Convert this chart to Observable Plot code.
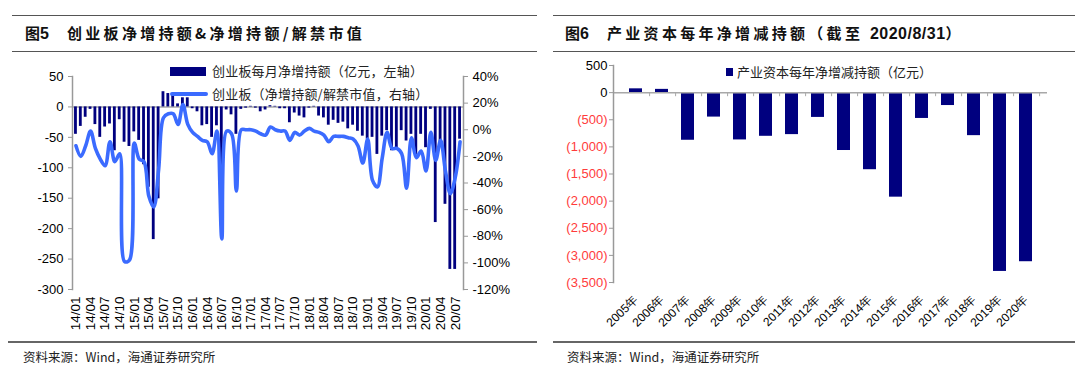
<!DOCTYPE html>
<html><head><meta charset="utf-8">
<script src="https://cdn.jsdelivr.net/npm/d3@7"></script>
<script src="https://cdn.jsdelivr.net/npm/@observablehq/plot@0.6"></script>
<style>
body{margin:0;background:#fff;}
#root{position:relative;width:1080px;height:369px;overflow:hidden;background:#fff;font-family:"Noto Sans CJK SC","Liberation Sans",sans-serif;}
.hl{position:absolute;height:0;border-top:1.5px solid #555;}
.title{position:absolute;font-weight:bold;font-size:15px;letter-spacing:3.3px;color:#111;line-height:18px;white-space:nowrap;}
.num{font-family:"Liberation Sans",Arial,sans-serif;letter-spacing:0.5px;font-size:16px;}
.src{position:absolute;font-size:12.5px;color:#222;white-space:nowrap;line-height:16px;}
.leg{position:absolute;font-size:13px;letter-spacing:0.2px;color:#222;white-space:nowrap;line-height:16px;}
.sw{position:absolute;}
</style></head><body><div id="root"></div>
<script>
// ---------- Figure 5 data ----------
const monthLabels = [];
for (let y = 14; y <= 20; y++) for (let m = 1; m <= 12; m++) {
  if (y === 20 && m > 8) break;
  monthLabels.push(`${y}/${String(m).padStart(2, "0")}`);
}
const netBuy = [ // 亿元, left axis
  -45,-32,-17,-4,-29,-50,-33,-28,-72,-21,-58,-65,
  -41,-55,-95,-132,-218,-151,25,22,20,5,15,15,
  -3,-8,-31,-29,-50,-31,-102,-5,-13,-45,-4,-2,
  1,-2,-8,-5,2,1,-3,-3,-26,-10,-15,-18,
  -2,1,-15,-18,-30,-22,-27,-25,-36,-30,-40,-48,
  -53,-50,-78,-48,-39,-72,-67,-39,-56,-45,-78,-45,
  -67,-4,-190,-58,-160,-267,-267,-53
];
const ratioPct = [ // %, right axis
  -12,-20,-12,-1,-14,-22,-27,-9,-24,-18,-99,-98,
  -10,-22,-24,-50,-58,-30,9,12,12,4,19,4,
  -2,-5,-8,-9,-18,-1,-82,-1,-3,-46,0,0,
  0,-1,-3,-4,2,0,-1,-1,-8,-2,-4,-1,
  1,-1,-2,-4,-9,-5,-5,-5,-6,-7,-12,-25,
  -7,-38,-43,-21,-2,-14,-14,-18,-44,-6,-21,-16,
  -31,-2,-23,-8,-31,-48,-36,-9
];
const leftTicks = [50,0,-50,-100,-150,-200,-250,-300];
const rightTicks = [40,20,0,-20,-40,-60,-80,-100,-120];

// ---------- Figure 6 data ----------
const years = ["2005","2006","2007","2008","2009","2010","2011","2012","2013","2014","2015","2016","2017","2018","2019","2020"];
const yearNet = [70,60,-878,-451,-872,-805,-774,-457,-1067,-1421,-1927,-476,-238,-793,-3296,-3117];
const yTicks6 = [500,0,-500,-1000,-1500,-2000,-2500,-3000,-3500];

const NAVY = "#00007f", BLUE = "#3b6bff";
const root = document.getElementById("root");
function el(cls, style, text, html) {
  const d = document.createElement("div");
  d.className = cls; Object.assign(d.style, style);
  if (html != null) d.innerHTML = html; else if (text != null) d.textContent = text;
  root.appendChild(d); return d;
}

// dual-axis mapping: right % -> left value
const L0 = -300, L1 = 50, R0 = -120, R1 = 40;
const toLeft = p => (p - R0) / (R1 - R0) * (L1 - L0) + L0;
const fromLeft = v => (v - L0) / (L1 - L0) * (R1 - R0) + R0;

const data5 = monthLabels.map((m, i) => ({m, v: netBuy[i], p: ratioPct[i]}));
const font = '"Liberation Sans", Arial, sans-serif';

const p5 = Plot.plot({
  width: 540, height: 340,
  marginLeft: 72, marginRight: 77, marginTop: 76, marginBottom: 51,
  style: {fontFamily: font, fontSize: "13px", color: "#000", background: "transparent"},
  x: {type: "band", domain: monthLabels, padding: 0.42, label: null},
  y: {domain: [L0, L1], label: null},
  marks: [
    Plot.ruleY([0], {stroke: "#a8a8a8", strokeWidth: 1.5}),
    Plot.barY(data5, {x: "m", y: "v", fill: NAVY}),
    Plot.line(data5, {x: "m", y: d => toLeft(d.p), stroke: BLUE, strokeWidth: 3.6, curve: "catmull-rom"}),
    Plot.frame({anchor: "left", stroke: "#999", strokeWidth: 1.5}),
    Plot.frame({anchor: "right", stroke: "#999", strokeWidth: 1.5}),
    Plot.axisY({ticks: leftTicks, tickSize: 4, tickPadding: 5, tickFormat: d => String(d), fontSize: 13, stroke: "#999", label: null}),
    Plot.axisY({anchor: "right", ticks: rightTicks.map(toLeft), tickSize: 4, tickPadding: 5, label: null,
      tickFormat: v => Math.round(fromLeft(v)) + "%", fontSize: 13, stroke: "#999"}),
    Plot.axisX({ticks: monthLabels.filter((d, i) => i % 3 === 0), tickRotate: -90, tickSize: 0, tickPadding: 7, fontSize: 13.5, label: null})
  ]
});
p5.style.position = "absolute"; p5.style.left = "0px"; p5.style.top = "0px";
root.appendChild(p5);

const data6 = years.map((y, i) => ({y, v: yearNet[i]}));
const fmt6 = d => d < 0 ? "(" + d3.format(",")(-d) + ")" : String(d);
const p6 = Plot.plot({
  width: 540, height: 340,
  marginLeft: 73, marginRight: 33, marginTop: 65, marginBottom: 58,
  style: {fontFamily: font, fontSize: "13px", color: "#000", background: "transparent"},
  x: {type: "band", domain: years, padding: 0.5, label: null},
  y: {domain: [-3500, 500], label: null},
  marks: [
    Plot.barY(data6, {x: "y", y: "v", fill: NAVY}),
    Plot.ruleY([0], {stroke: "#a8a8a8", strokeWidth: 1.5}),
    Plot.ruleX(years, {x: d => d, dx: 13.6, y1: 0, y2: -75, stroke: "#a8a8a8"}),
    Plot.frame({anchor: "left", stroke: "#999", strokeWidth: 1.5}),
    Plot.axisY({ticks: yTicks6, tickSize: 4, tickFormat: () => "", stroke: "#999", label: null}),
    Plot.text(yTicks6, {y: d => d, frameAnchor: "left", dx: -6, textAnchor: "end", text: fmt6,
      fill: d => d < 0 ? "#ff3b3b" : "#000", fontSize: 13}),
    Plot.axisX({tickRotate: -45, tickSize: 0, tickPadding: 15, tickFormat: d => d + "年", fontSize: 12, label: null})
  ]
});
p6.style.position = "absolute"; p6.style.left = "540px"; p6.style.top = "0px";
root.appendChild(p6);

// titles and rules
el("hl", {left: "12px", width: "525px", top: "15px"});
el("hl", {left: "12px", width: "525px", top: "51px"});
el("hl", {left: "553px", width: "522px", top: "15px"});
el("hl", {left: "553px", width: "522px", top: "51px"});
el("title", {left: "25px", top: "24px", letterSpacing: "0px"}, null, '图<span class="num">5</span>');
el("title", {left: "67px", top: "24px"}, "创业板净增持额&净增持额/解禁市值");
el("title", {left: "565px", top: "24px", letterSpacing: "0px"}, null, '图<span class="num">6</span>');
el("title", {left: "607px", top: "24px"}, null, '产业资本每年净增减持额（截至 <span class="num">2020/8/31</span>）');

// legends
el("sw", {left: "170px", top: "67px", width: "36px", height: "9px", background: NAVY});
el("leg", {left: "212px", top: "63px"}, "创业板每月净增持额（亿元，左轴）");
el("sw", {left: "170px", top: "92px", width: "38px", height: "4px", background: BLUE, borderRadius: "2px"});
el("leg", {left: "212px", top: "86px"}, "创业板（净增持额/解禁市值，右轴）");
el("sw", {left: "726px", top: "68px", width: "7px", height: "8px", background: NAVY});
el("leg", {left: "737px", top: "64px", fontSize: "13px", letterSpacing: "0px"}, "产业资本每年净增减持额（亿元）");

// bottom rules + sources
el("hl", {left: "8px", width: "529px", top: "341px", borderTop: "2px solid #666"});
el("hl", {left: "553px", width: "522px", top: "341px", borderTop: "2px solid #666"});
el("src", {left: "23px", top: "349px"}, "资料来源：Wind，海通证券研究所");
el("src", {left: "567px", top: "349px"}, "资料来源：Wind，海通证券研究所");
</script></body></html>
